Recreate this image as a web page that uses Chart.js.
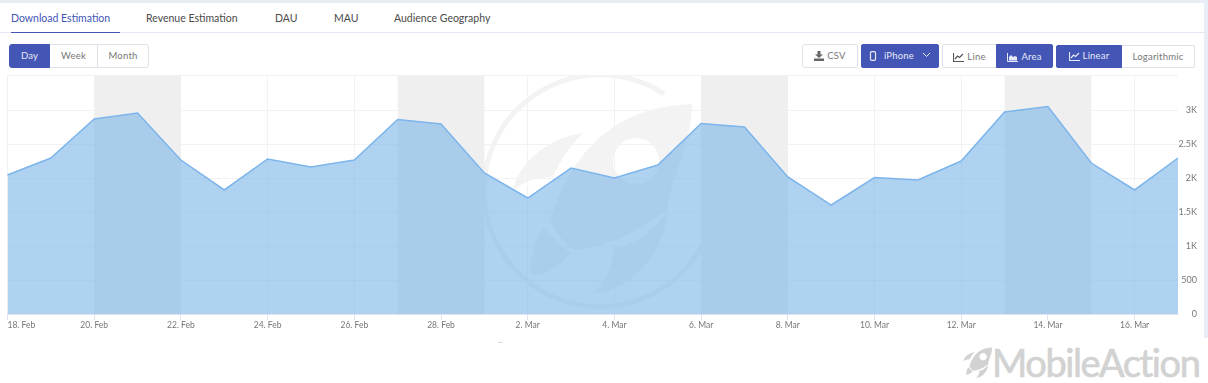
<!DOCTYPE html>
<html>
<head>
<meta charset="utf-8">
<title>Download Estimation</title>
<script src="https://cdn.jsdelivr.net/npm/chart.js@4/dist/chart.umd.min.js"></script>
<style>
html,body{margin:0;padding:0;background:#fff}
body{width:1208px;height:383px;position:relative;overflow:hidden;font-family:Lato,"Open Sans",sans-serif}
.abs{position:absolute}
.strip{background:#e9edf5}
.tab{position:absolute;top:10px;font-size:10.5px;line-height:16px;color:#4a4a4a;white-space:nowrap}
.tab.on{color:#4356b5}
.btn{position:absolute;box-sizing:border-box;height:24px;top:44px;font-size:9.5px;line-height:22px;text-align:center;color:#777;background:#fff;border:1px solid #dfe1e8;white-space:nowrap;letter-spacing:.2px}
.btn.on{background:#4356b5;border-color:#4356b5;color:#e6e9f7}
.btn svg{vertical-align:-2px;margin-right:3px}
#chart{position:absolute;left:0;top:0;z-index:2}
#mark{position:absolute;left:484px;top:76px;z-index:1}
#brand{position:absolute;left:992px;top:339px;font-size:38px;line-height:46px;color:#d2d2d2;font-weight:400;-webkit-text-stroke:.7px #d2d2d2;white-space:nowrap;letter-spacing:-1.4px}
#brandIcon{position:absolute;left:962px;top:347px}
</style>
</head>
<body>
<svg width="0" height="0" style="position:absolute">
  <defs>
    <g id="rocket">
      <path d="M208 28 C150 30 95 55 66 144 C73 160 85 172 91 174 C150 168 178 130 183 137 C186 100 208 70 208 28Z M152 62 a23 23 0 1 0 .1 0Z" fill-rule="evenodd"/>
      <path d="M99 57 C62 62 35 88 29 114 C42 104 56 101 69 101 C76 84 87 69 99 57Z"/>
      <path d="M59 152 L86 177 C72 194 55 203 46 197 C47 183 50 165 59 152Z"/>
      <path d="M183 137 C180 178 150 212 109 218 C122 205 129 190 129 174 C150 170 168 155 183 137Z"/>
    </g>
  </defs>
</svg>
<svg id="mark" width="236" height="240" viewBox="0 0 236 240">
  <path d="M180 18 A116 116 0 1 0 231 100" fill="none" stroke="#f3f3f3" stroke-width="5"/>
  <use href="#rocket" fill="#f3f3f3"/>
</svg>

<div class="abs strip" style="left:0;top:0;width:1208px;height:3px"></div>
<div class="abs strip" style="left:1204px;top:0;width:4px;height:338px"></div>
<div class="abs" style="left:0;top:32px;width:1204px;height:1px;background:#e4e6f1"></div>
<div class="abs" style="left:11px;top:32px;width:109px;height:1px;background:#4356b5"></div>

<div class="tab on" style="left:11px">Download Estimation</div>
<div class="tab" style="left:146px">Revenue Estimation</div>
<div class="tab" style="left:275px">DAU</div>
<div class="tab" style="left:334px">MAU</div>
<div class="tab" style="left:394px">Audience Geography</div>

<div class="btn on" style="left:9px;width:41px;border-radius:3px 0 0 3px">Day</div>
<div class="btn" style="left:50px;width:48px;border-left:0">Week</div>
<div class="btn" style="left:97px;width:52px;border-radius:0 3px 3px 0">Month</div>

<div class="btn" style="left:802px;width:56px;border-radius:2px"><svg width="10" height="10" viewBox="0 0 10 10"><path d="M3.500 0h3v3.500H9L5 7 1 3.500h2.500zM0 7.500h10V10H0z" fill="#666"/></svg>CSV</div>
<div class="btn on" style="left:861px;width:78px;border-radius:2px"><svg width="8" height="10" viewBox="0 0 8 10" style="margin-right:7px"><rect x="1.500" y=".7" width="5" height="8.600" rx="1" fill="none" stroke="#e6e9f7" stroke-width="1.200"/></svg>iPhone<svg width="9" height="6" viewBox="0 0 9 6" style="margin:0 0 1px 8px;vertical-align:0"><path d="M1 1l3.500 3.500L8 1" fill="none" stroke="#e6e9f7"/></svg></div>
<div class="btn" style="left:942px;width:55px;border-radius:2px 0 0 2px;line-height:23px"><svg width="11" height="9" viewBox="0 0 11 9"><path d="M.5 0v8.500H11M2 6l2.500-3L6.500 4.500 10 1" fill="none" stroke="#555" stroke-width="1.200"/></svg>Line</div>
<div class="btn on" style="left:996px;width:57px;border-radius:0 2px 2px 0;line-height:23px"><svg width="11" height="9" viewBox="0 0 11 9"><path d="M.5 0v8.500H11" fill="none" stroke="#e6e9f7"/><path d="M2 7.500V4l2-2 2 2 2-1 2 1v3.500z" fill="#e6e9f7"/></svg>Area</div>
<div class="btn on" style="left:1056px;width:66px;top:45px;height:23px;border-radius:2px 0 0 2px;line-height:19px"><svg width="11" height="9" viewBox="0 0 11 9"><path d="M.5 0v8.500H11M2 6l2.500-3L6.500 4.500 10 1" fill="none" stroke="#e6e9f7" stroke-width="1.200"/></svg>Linear</div>
<div class="btn" style="left:1122px;width:73px;top:45px;height:23px;border-left:0;border-radius:0 2px 2px 0;line-height:21px">Logarithmic</div>

<canvas id="chart" width="1208" height="383"></canvas>

<div class="abs" style="left:498px;top:342px;width:5px;height:1px;background:#d5dbe8"></div>
<svg id="brandIcon" width="32" height="32" viewBox="25 25 190 200"><use href="#rocket" fill="#d2d2d2"/></svg>
<div id="brand">MobileAction</div>

<script>
// daily downloads
const days = ["18. Feb","19. Feb","20. Feb","21. Feb","22. Feb","23. Feb","24. Feb","25. Feb","26. Feb","27. Feb","28. Feb","1. Mar","2. Mar","3. Mar","4. Mar","5. Mar","6. Mar","7. Mar","8. Mar","9. Mar","10. Mar","11. Mar","12. Mar","13. Mar","14. Mar","15. Mar","16. Mar","17. Mar"];
const downloads = [2044,2294,2868,2956,2265,1824,2280,2162,2265,2860,2794,2074,1706,2147,2000,2191,2801,2750,2015,1603,2007,1970,2250,2970,3051,2220,1824,2294];
const weekendStart = ["20. Feb","27. Feb","6. Mar","13. Mar"];
const weekendEnd = ["22. Feb","1. Mar","8. Mar","15. Mar"];
const yMax = 3515;
const yTickValues = [0,500,1000,1500,2000,2500,3000,yMax];
const yTickLabels = ["0","500","1K","1.5K","2K","2.5K","3K",""];

const weekendBands = {
    id: "weekendBands",
    beforeDatasetsDraw(chart) {
        const {ctx, chartArea: {top, height}, scales: {x}} = chart;
        ctx.save();
        ctx.fillStyle = "#efefef";
        weekendStart.forEach((d, i) => {
            const x0 = x.getPixelForValue(days.indexOf(d));
            const x1 = x.getPixelForValue(days.indexOf(weekendEnd[i]));
            ctx.fillRect(x0, top, x1 - x0, height);
        });
        ctx.restore();
    },
};

new Chart(document.getElementById("chart").getContext("2d"), {
    type: "line",
    data: {
        labels: days,
        datasets: [{
            data: downloads,
            borderColor: "#7cb5ec",
            borderWidth: 1.5,
            backgroundColor: "rgba(122,180,230,0.6)",
            fill: "origin",
            tension: 0,
            pointRadius: 0,
        }],
    },
    options: {
        responsive: false,
        animation: false,
        events: [],
        layout: {autoPadding: false, padding: {left: 7.5, top: 75, right: 11, bottom: 39}},
        plugins: {legend: {display: false}, tooltip: {enabled: false}},
        scales: {
            x: {
                offset: false,
                afterFit(scale) { scale.height = 30; },
                border: {display: true, color: "#dfe3f0"},
                grid: {
                    color: c => c.index % 2 === 0 ? "#f1f2f6" : "transparent",
                    tickColor: c => c.index % 2 === 0 ? "#dfe3f0" : "transparent",
                    tickLength: 6,
                },
                ticks: {
                    autoSkip: false,
                    maxRotation: 0,
                    align: "inner",
                    padding: 0,
                    color: "#777",
                    font: {family: "Lato", size: 8.5},
                    callback(v, i) { return i % 2 === 0 ? days[i] : ""; },
                },
            },
            y: {
                position: "right",
                min: 0,
                max: yMax,
                afterFit(scale) { scale.width = 19; },
                afterBuildTicks(scale) { scale.ticks = yTickValues.map(value => ({value})); },
                border: {display: false},
                grid: {color: "#f1f2f6", drawTicks: false},
                ticks: {
                    autoSkip: false,
                    crossAlign: "far",
                    padding: 0,
                    color: "#777",
                    font: {family: "Lato", size: 9},
                    callback(v, i) { return yTickLabels[i]; },
                },
            },
        },
    },
    plugins: [weekendBands],
});
</script>
</body>
</html>
